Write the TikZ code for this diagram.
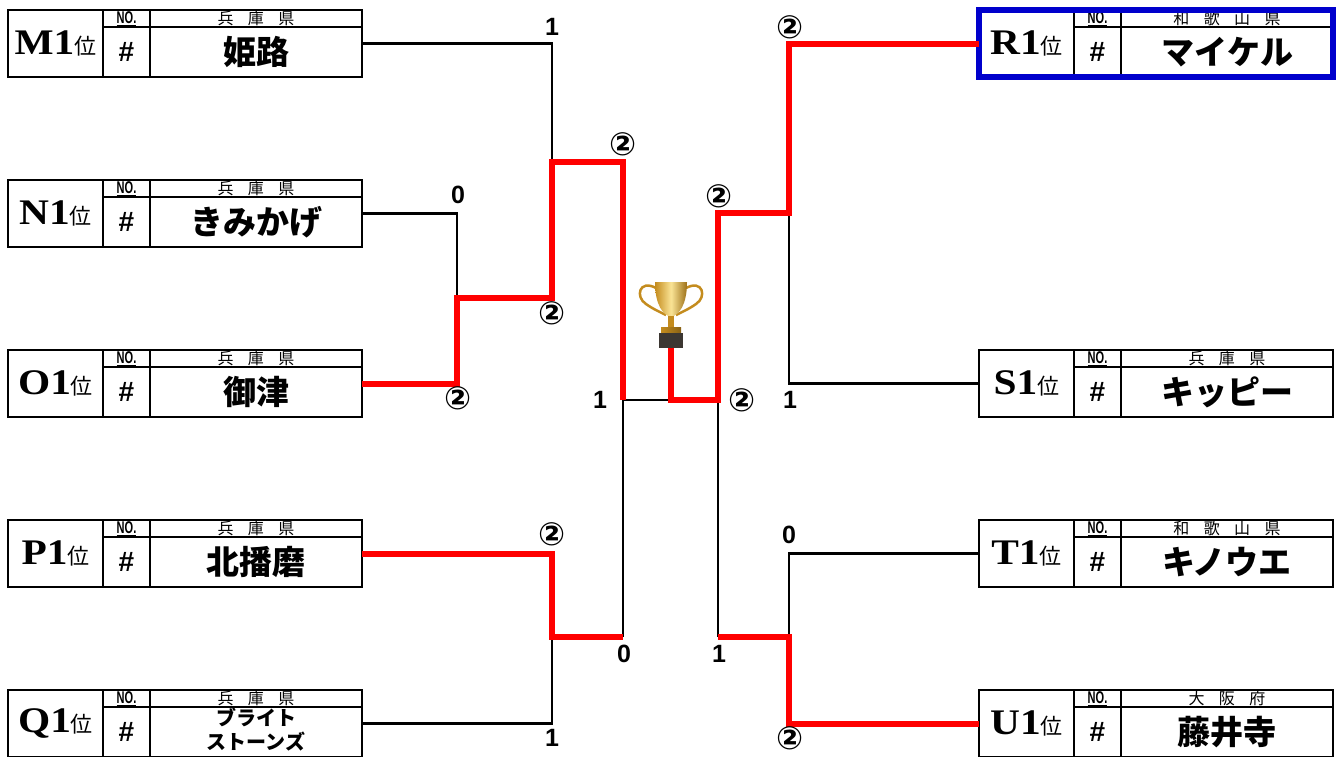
\documentclass[tikz,border=0pt]{standalone}
\usepackage{fontspec}
\setmainfont{Liberation Sans}
\newfontfamily\jp{Noto Sans CJK JP}
\newfontfamily\rankfont{Liberation Serif}
\newfontfamily\circfont{DejaVu Sans}
\usepackage{tikz}
\usetikzlibrary{positioning, calc}
\definecolor{champblue}{RGB}{0,0,204}
\definecolor{cupgold}{RGB}{196,140,30}
\definecolor{cuplight}{RGB}{250,228,150}
\definecolor{cupbase}{RGB}{60,55,50}
\tikzstyle{cell}=[%
      rectangle, draw=black, line width=1.2pt, fill=white,
      inner sep=0pt, outer sep=0pt
]
\tikzstyle{rankcell}=[%
      cell, minimum width=95pt, minimum height=67pt,
      font=\rankfont\bfseries\fontsize{36}{36}\selectfont
]
\tikzstyle{nocell}=[%
      cell, minimum width=47pt, minimum height=17pt,
      font=\bfseries\fontsize{17}{17}\selectfont
]
\tikzstyle{numcell}=[%
      cell, minimum width=47pt, minimum height=50pt,
      font=\bfseries\fontsize{28}{28}\selectfont
]
\tikzstyle{prefcell}=[%
      cell, minimum width=212pt, minimum height=17pt,
      font=\jp\fontsize{16}{16}\selectfont
]
\tikzstyle{namecell}=[%
      cell, minimum width=212pt, minimum height=50pt, align=center,
      font=\jp\bfseries\fontsize{33}{33}\selectfont
]
\tikzstyle{lose}=[draw=black, line width=2.3pt]
\tikzstyle{win}=[draw=red, line width=6pt]
\tikzstyle{score}=[font=\bfseries\fontsize{25}{25}\selectfont, inner sep=0pt]
\tikzstyle{won}=[font=\circfont\bfseries\fontsize{32}{32}\selectfont, inner sep=0pt]
\tikzstyle{champ}=[draw=champblue, line width=6.5pt]
\tikzstyle{cupbox}=[rectangle, minimum width=64pt, minimum height=70pt, inner sep=0pt]

\newcommand{\kgap}{\hspace{0.9em}}
\newcommand{\twolines}[2]{{\fontsize{20}{23}\selectfont\begin{tabular}{@{}c@{}}#1\\#2\end{tabular}}}
\newcommand{\teamentry}[5]{%
  \node[rankcell]                  (#1)     at (#2)             {\scalebox{1.15}[1]{#3}{\jp\mdseries\fontsize{22}{22}\selectfont 位}};
  \node[nocell, anchor=north west] (#1no)   at (#1.north east)  {\scalebox{0.65}[1]{\underline{NO.}}};
  \node[numcell]                   (#1num)  [below=0pt of #1no]  {\#};
  \node[prefcell]                  (#1pref) [right=0pt of #1no]  {\raisebox{-1.5pt}{#4}};
  \node[namecell]                  (#1name) [right=0pt of #1num] {#5};
}

\begin{document}
\begin{tikzpicture}[x=1pt, y=-1pt]
    \useasboundingbox (0,0) rectangle (1341,756);

    % left half
    \teamentry{M1}{55.5,43.5}{M1}{兵\kgap 庫\kgap 県}{姫路}
    \teamentry{N1}{55.5,213.5}{N1}{兵\kgap 庫\kgap 県}{きみかげ}
    \teamentry{O1}{55.5,383.5}{O1}{兵\kgap 庫\kgap 県}{御津}
    \teamentry{P1}{55.5,553.5}{P1}{兵\kgap 庫\kgap 県}{北播磨}
    \teamentry{Q1}{55.5,723.5}{Q1}{兵\kgap 庫\kgap 県}{\twolines{ブライト}{ストーンズ}}

    % right half
    \teamentry{R1}{1026.5,43.5}{R1}{和\kgap 歌\kgap 山\kgap 県}{マイケル}
    \teamentry{S1}{1026.5,383.5}{S1}{兵\kgap 庫\kgap 県}{キッピー}
    \teamentry{T1}{1026.5,553.5}{T1}{和\kgap 歌\kgap 山\kgap 県}{キノウエ}
    \teamentry{U1}{1026.5,723.5}{U1}{大\kgap 阪\kgap 府}{藤井寺}
    \draw[champ] (R1.north west) rectangle (R1name.south east);

    \coordinate (j1) at (457,298);
    \coordinate (j2) at (552,162);
    \coordinate (j3) at (552,637);
    \coordinate (j4) at (623,400);
    \coordinate (f)  at (671,400);
    \coordinate (k1) at (789,213);
    \coordinate (k2) at (789,637);
    \coordinate (k3) at (718,400);

    \node[cupbox] (cup) at (671,313) {};
    \begin{scope}[shift={(cup.center)}]
      \draw[cupgold, line width=2.5pt] (-15,-25) .. controls (-32,-34) and (-36,-16) .. (-25,-9) .. controls (-18,-4) and (-11,-1) .. (-5,2);
      \draw[cupgold, line width=2.5pt] (15,-25) .. controls (32,-34) and (36,-16) .. (25,-9) .. controls (18,-4) and (11,-1) .. (5,2);
      \shade[left color=cupgold, right color=cupgold!80!black, middle color=cuplight]
        (-16,-31) -- (16,-31) .. controls (16,-8) and (8,2) .. (0,4) .. controls (-8,2) and (-16,-8) .. (-16,-31) -- cycle;
      \fill[cupgold] (-3,3) rectangle (3,15);
      \shade[left color=cupgold, right color=cupgold!70!black] (-10,14) rectangle (10,20);
      \fill[cupbase] (-12,20) rectangle (12,35);
    \end{scope}

    % losers
    \path[lose] (M1.east -| M1name.east) -| (j2)
                (N1.east -| N1name.east) -| (j1)
                (Q1.east -| Q1name.east) -| (j3)
                (j4) -- (j4 |- j3)
                (j4) -- (f)
                (S1.west) -| (k1)
                (T1.west) -| (k2)
                (k3) -- (k3 |- k2);

    % winners
    \path[win] (O1.east -| O1name.east) -| (j1) -| (j2) -| (j4)
               (P1.east -| P1name.east) -| (j3) -- (j3 -| j4)
               (U1.west) -| (k2) -- (k2 -| k3)
               (R1.west) -| (k1) -| (k3) -- (f) -- (f |- cup.south);

    % scores
    \node[score] (sM1)  at (552,27)  {1};
    \node[score] (sN1)  at (458,195) {0};
    \node[won]   (sO1a) at (458,398) {②};
    \node[won]   (sO1b) at (552,313) {②};
    \node[won]   (sO1c) at (623,144) {②};
    \node[score] (sO1d) at (600,400) {1};
    \node[won]   (sP1a) at (552,534) {②};
    \node[score] (sP1b) at (624,654) {0};
    \node[score] (sQ1)  at (552,738) {1};
    \node[won]   (sR1a) at (790,27)  {②};
    \node[won]   (sR1b) at (719,196) {②};
    \node[won]   (sR1c) at (742,400) {②};
    \node[score] (sS1)  at (790,400) {1};
    \node[score] (sT1)  at (789,535) {0};
    \node[won]   (sU1a) at (790,738) {②};
    \node[score] (sU1b) at (719,654) {1};

\end{tikzpicture}
\end{document}
